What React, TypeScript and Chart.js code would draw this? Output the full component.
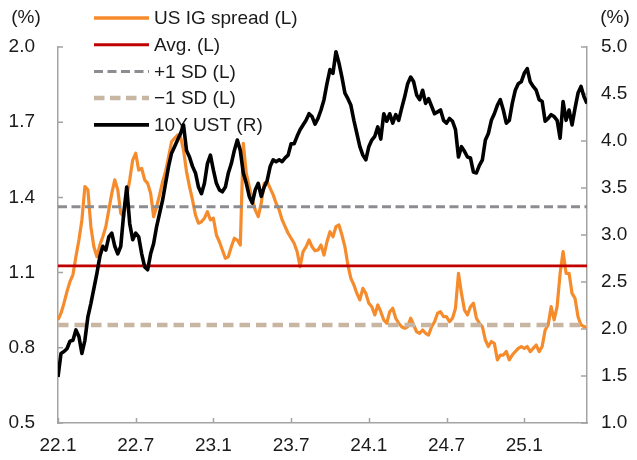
import React, { useEffect, useRef } from 'react';
import { Chart, registerables } from 'chart.js';

Chart.register(...registerables);

// x positions are week indices counted from the first week of Jan 2022
const tickWeeks = [0, 26, 52, 78, 104, 130, 156];
const tickLabels = ['22.1', '22.7', '23.1', '23.7', '24.1', '24.7', '25.1'];
const lastWeek = 177;

// US IG spread (left axis, %)
const spread = [
  0.911, 0.938, 0.978, 1.024, 1.064, 1.091, 1.164, 1.230, 1.310, 1.443,
  1.430, 1.283, 1.203, 1.164, 1.210, 1.243, 1.283, 1.350, 1.416, 1.470,
  1.430, 1.337, 1.323, 1.403, 1.470, 1.549, 1.576, 1.509, 1.516, 1.470,
  1.456, 1.416, 1.323, 1.363, 1.410, 1.463, 1.503, 1.562, 1.622, 1.636,
  1.649, 1.642, 1.589, 1.503, 1.443, 1.390, 1.330, 1.297, 1.303, 1.317,
  1.343, 1.310, 1.317, 1.250, 1.223, 1.190, 1.157, 1.164, 1.203, 1.237,
  1.230, 1.210, 1.616, 1.496, 1.443, 1.390, 1.350, 1.323, 1.376, 1.456,
  1.463, 1.436, 1.410, 1.376, 1.350, 1.310, 1.283, 1.257, 1.237, 1.217,
  1.184, 1.124, 1.184, 1.203, 1.230, 1.203, 1.187, 1.190, 1.210, 1.170,
  1.223, 1.263, 1.243, 1.283, 1.290, 1.250, 1.203, 1.130, 1.077, 1.051,
  1.017, 0.991, 1.037, 1.017, 0.978, 0.964, 0.931, 0.971, 0.944, 0.911,
  0.898, 0.944, 0.958, 0.918, 0.898, 0.884, 0.878, 0.884, 0.918, 0.891,
  0.864, 0.858, 0.871, 0.858, 0.851, 0.884, 0.904, 0.938, 0.944, 0.924,
  0.924, 0.904, 0.918, 0.958, 1.097, 1.017, 0.951, 0.931, 0.964, 0.978,
  0.918, 0.898, 0.884, 0.831, 0.805, 0.825, 0.818, 0.752, 0.771, 0.771,
  0.785, 0.752, 0.771, 0.785, 0.798, 0.805, 0.798, 0.805, 0.785, 0.798,
  0.811, 0.785, 0.805, 0.871, 0.891, 0.964, 0.911, 0.964, 1.097, 1.184,
  1.097, 1.097, 1.017, 0.997, 0.924, 0.891, 0.884, 0.884,
];

// 10Y UST yield (right axis, %)
const ust = [
  1.49, 1.74, 1.76, 1.79, 1.87, 1.88, 1.99, 1.92, 1.74, 1.88,
  2.13, 2.27, 2.43, 2.59, 2.77, 2.88, 2.84, 2.98, 3.02, 2.88,
  2.80, 2.88, 3.23, 3.51, 3.12, 2.95, 3.02, 2.98, 2.80, 2.66,
  2.63, 2.80, 2.91, 3.09, 3.23, 3.37, 3.55, 3.73, 3.87, 3.94,
  4.01, 4.08, 4.17, 3.90, 3.83, 3.73, 3.66, 3.51, 3.44, 3.55,
  3.76, 3.85, 3.69, 3.55, 3.48, 3.46, 3.51, 3.66, 3.76, 3.90,
  4.01, 3.90, 3.66, 3.55, 3.41, 3.34, 3.48, 3.55, 3.41, 3.51,
  3.58, 3.73, 3.80, 3.78, 3.80, 3.78, 3.82, 3.85, 3.97, 3.97,
  4.05, 4.12, 4.17, 4.22, 4.29, 4.26, 4.18, 4.24, 4.33, 4.44,
  4.61, 4.76, 4.72, 4.95, 4.83, 4.68, 4.51, 4.45, 4.38, 4.22,
  4.08, 3.94, 3.85, 3.80, 3.94, 4.01, 4.05, 4.15, 4.02, 4.29,
  4.21, 4.29, 4.19, 4.28, 4.22, 4.35, 4.47, 4.61, 4.68, 4.63,
  4.49, 4.44, 4.54, 4.40, 4.45, 4.37, 4.29, 4.31, 4.33, 4.22,
  4.19, 4.24, 4.21, 4.12, 3.83, 3.94, 3.89, 3.83, 3.82, 3.67,
  3.66, 3.74, 3.80, 4.01, 4.08, 4.22, 4.29, 4.38, 4.44, 4.33,
  4.19, 4.22, 4.40, 4.54, 4.61, 4.63, 4.72, 4.77, 4.63, 4.58,
  4.54, 4.44, 4.42, 4.21, 4.24, 4.28, 4.26, 4.22, 4.03, 4.42,
  4.22, 4.33, 4.17, 4.35, 4.51, 4.58, 4.47, 4.40,
];

const avgSpread = 1.127;
const plusOneSd = 1.363;
const minusOneSd = 0.891;

const legendLabels = ['US IG spread (L)', 'Avg. (L)', '+1 SD (L)', '\u22121 SD (L)', '10Y UST (R)'];

const ORANGE = '#f68b2c';
const RED = '#c00000';
const GREY = '#8b8d90';
const TAN = '#c8b5a2';
const BLACK = '#000000';
const AXIS = '#a3a3a3';
const TEXT = '#1a1a1a';
const FONT = '"Liberation Sans", Arial, sans-serif';

const legendStyles = [
  { color: ORANGE, width: 3.5, dash: [] as number[] },
  { color: RED, width: 3, dash: [] as number[] },
  { color: GREY, width: 3, dash: [9, 4.5] },
  { color: TAN, width: 4.5, dash: [10.5, 5.5] },
  { color: BLACK, width: 3.8, dash: [] as number[] },
];

const decorPlugin = {
  id: 'decor',
  beforeDatasetsDraw(chart: any) {
    const { ctx, chartArea, scales } = chart;
    ctx.save();
    // inward tick marks
    ctx.strokeStyle = AXIS;
    ctx.lineWidth = 1.5;
    ctx.setLineDash([]);
    ctx.beginPath();
    scales.x.ticks.forEach((t: any) => {
      const px = Math.round(scales.x.getPixelForValue(t.value)) + 0.5;
      ctx.moveTo(px, chartArea.bottom);
      ctx.lineTo(px, chartArea.bottom - 5);
    });
    scales.y.ticks.forEach((t: any) => {
      const py = scales.y.getPixelForValue(t.value);
      ctx.moveTo(chartArea.left, py);
      ctx.lineTo(chartArea.left + 5, py);
    });
    scales.y1.ticks.forEach((t: any) => {
      const py = scales.y1.getPixelForValue(t.value);
      ctx.moveTo(chartArea.right, py);
      ctx.lineTo(chartArea.right - 6, py);
    });
    ctx.stroke();

    // unit labels
    ctx.fillStyle = TEXT;
    ctx.font = `19px ${FONT}`;
    ctx.textBaseline = 'middle';
    ctx.textAlign = 'center';
    ctx.fillText('(%)', 26, 18);
    ctx.fillText('(%)', 615, 18);

    // legend
    const lx0 = chartArea.left + 36;
    const lx1 = lx0 + 55;
    const ly0 = 18;
    const dy = 26.7;
    ctx.textAlign = 'left';
    legendLabels.forEach((label, i) => {
      const st = legendStyles[i];
      const y = ly0 + dy * i;
      ctx.strokeStyle = st.color;
      ctx.lineWidth = st.width;
      ctx.setLineDash(st.dash);
      ctx.lineCap = 'butt';
      ctx.beginPath();
      ctx.moveTo(lx0, y);
      ctx.lineTo(lx1, y);
      ctx.stroke();
      ctx.setLineDash([]);
      ctx.fillStyle = TEXT;
      ctx.fillText(label, lx1 + 5, y + 1);
    });
    ctx.restore();
  },
};

export default function App() {
  const canvasRef = useRef<HTMLCanvasElement | null>(null);

  useEffect(() => {
    const canvas = canvasRef.current;
    if (!canvas) return;
    const toXY = (arr: number[]) => arr.map((v, i) => ({ x: i, y: v }));
    const flat = (v: number) => [{ x: 0, y: v }, { x: lastWeek, y: v }];

    const chart = new Chart(canvas, {
      type: 'line',
      data: {
        datasets: [
          {
            label: legendLabels[4], data: toXY(ust), yAxisID: 'y1',
            borderColor: BLACK, borderWidth: 3.6, order: 0,
          },
          {
            label: legendLabels[1], data: flat(avgSpread), yAxisID: 'y',
            borderColor: RED, borderWidth: 2.6, order: 1,
          },
          {
            label: legendLabels[2], data: flat(plusOneSd), yAxisID: 'y',
            borderColor: GREY, borderWidth: 3, borderDash: [9, 4.5], order: 2,
          },
          {
            label: legendLabels[3], data: flat(minusOneSd), yAxisID: 'y',
            borderColor: TAN, borderWidth: 4.5, borderDash: [10.5, 6], order: 3,
          },
          {
            label: legendLabels[0], data: toXY(spread), yAxisID: 'y',
            borderColor: ORANGE, borderWidth: 3.2, order: 4,
          },
        ],
      },
      options: {
        responsive: false,
        animation: false,
        parsing: true,
        layout: { padding: { top: 47, left: 0, right: 0, bottom: 0 } },
        elements: {
          point: { radius: 0, hoverRadius: 0 },
          line: { tension: 0, borderJoinStyle: 'round', fill: false },
        },
        plugins: {
          legend: { display: false },
          tooltip: { enabled: false },
        },
        scales: {
          x: {
            type: 'linear',
            min: 0,
            max: lastWeek,
            grid: { display: false, drawTicks: false },
            border: { display: true, color: AXIS, width: 1.5 },
            afterFit: (s: any) => { s.height = 37; },
            afterBuildTicks: (s: any) => { s.ticks = tickWeeks.map((v) => ({ value: v })); },
            ticks: {
              autoSkip: false,
              maxRotation: 0,
              padding: 11,
              color: TEXT,
              font: { family: FONT, size: 19 },
              callback: (v: any) => {
                const idx = tickWeeks.indexOf(Number(v));
                return idx >= 0 ? tickLabels[idx] : '';
              },
            },
          },
          y: {
            type: 'linear',
            position: 'left',
            min: 0.5,
            max: 2.0,
            grid: { display: false, drawTicks: false },
            border: { display: true, color: AXIS, width: 1.5 },
            afterFit: (s: any) => { s.width = 58; },
            ticks: {
              stepSize: 0.3,
              padding: 23,
              color: TEXT,
              font: { family: FONT, size: 19 },
              callback: (v: any) => Number(v).toFixed(1),
            },
          },
          y1: {
            type: 'linear',
            position: 'right',
            min: 1.0,
            max: 5.0,
            grid: { display: false, drawTicks: false },
            border: { display: true, color: AXIS, width: 1.5 },
            afterFit: (s: any) => { s.width = 50; },
            ticks: {
              stepSize: 0.5,
              padding: 14,
              color: TEXT,
              font: { family: FONT, size: 19 },
              callback: (v: any) => Number(v).toFixed(1),
            },
          },
        },
      },
      plugins: [decorPlugin],
    });
    return () => chart.destroy();
  }, []);

  return (
    <div style={{ position: 'absolute', left: 0, top: 0, width: 637, height: 460, background: '#fff' }}>
      <canvas ref={canvasRef} width={637} height={460} />
    </div>
  );
}
